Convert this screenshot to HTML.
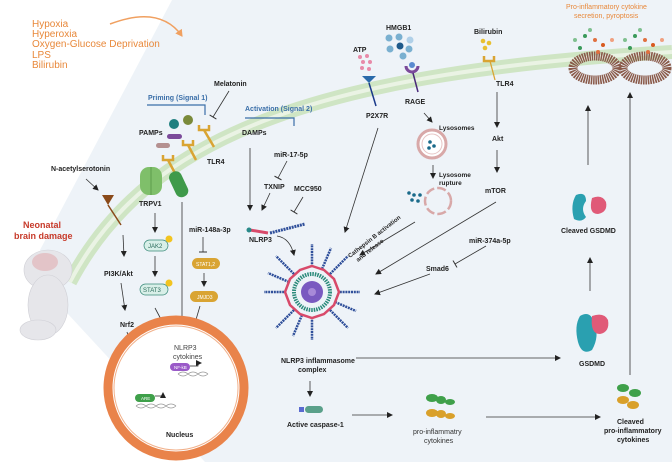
<!DOCTYPE html>
<html><head><meta charset="utf-8"><style>
html,body{margin:0;padding:0;background:#fff;}
svg{display:block;font-family:"Liberation Sans",sans-serif;}
.b{font-weight:bold;font-size:7px;fill:#222;}
.n{font-size:7px;fill:#333;}
.l{stroke:#333;stroke-width:0.8;fill:none;}
</style></head><body>
<svg width="672" height="462" viewBox="0 0 672 462" xmlns="http://www.w3.org/2000/svg">
<defs>
<marker id="a" markerWidth="6" markerHeight="6" refX="5" refY="3" orient="auto" markerUnits="userSpaceOnUse"><path d="M0,0 L6,3 L0,6z" fill="#222"/></marker>
<marker id="t" markerWidth="2" markerHeight="8" refX="1" refY="4" orient="auto" markerUnits="userSpaceOnUse"><path d="M1,0 L1,8" stroke="#333" stroke-width="1"/></marker>
<marker id="o" markerWidth="8" markerHeight="8" refX="6" refY="4" orient="auto" markerUnits="userSpaceOnUse"><path d="M0,0 L7,4 L0,8z" fill="#f0a060"/></marker>
</defs>
<rect width="672" height="462" fill="#fff"/>
<path d="M172,0 L672,0 L672,462 L205,462 L55,300 L40,250 Z" fill="#eef3f8"/>
<!-- membrane -->
<path d="M70,282 C150,130 330,72 672,52" stroke="#cfe5c4" stroke-width="14" fill="none"/>
<path d="M70,282 C150,130 330,72 672,52" stroke="#eaf3e4" stroke-width="4" fill="none"/>
<!-- top-left text -->
<g font-size="10" fill="#e8883a">
<text x="32" y="27">Hypoxia</text><text x="32" y="37">Hyperoxia</text><text x="32" y="47">Oxygen-Glucose Deprivation</text><text x="32" y="58">LPS</text><text x="32" y="68">Bilirubin</text></g>
<path d="M110,24 Q160,5 182,36" stroke="#f0a060" stroke-width="1.5" fill="none" marker-end="url(#o)"/>
<!-- signals -->
<text x="148" y="100" font-size="7" fill="#3a6ea8" font-weight="bold">Priming (Signal 1)</text>
<path d="M147,105 H205 V115" stroke="#3a6ea8" stroke-width="1.2" fill="none"/>
<text x="245" y="111" font-size="7" fill="#3a6ea8" font-weight="bold">Activation (Signal 2)</text>
<path d="M245,118 H294 V126" stroke="#3a6ea8" stroke-width="1.2" fill="none"/>
<text x="214" y="86" class="b">Melatonin</text>
<path d="M229,91 L213,117" class="l" marker-end="url(#t)"/>
<text x="139" y="135" class="b">PAMPs</text>
<circle cx="174" cy="124" r="5" fill="#1f7f7f"/><circle cx="188" cy="120" r="5" fill="#7a8a3a"/>
<rect x="167" y="134" width="15" height="5" rx="2.5" fill="#7b4a9a"/>
<rect x="156" y="143" width="14" height="5" rx="2.5" fill="#b49090"/>
<g stroke="#d9a433" stroke-width="2.5" fill="none">
<path d="M199,125 v5 h10 v-5 M204,130 l10,17"/>
<path d="M183,140 v5 h10 v-5 M188,145 l8,15"/>
<path d="M163,155 v5 h10 v-5 M168,160 l9,17"/>
</g>
<text x="207" y="164" class="b">TLR4</text>
<rect x="140" y="167" width="22" height="28" rx="9" fill="#7fbf6a"/><path d="M151,167 v28" stroke="#5e9e4c"/>
<text x="139" y="206" class="b">TRPV1</text>
<rect x="172" y="171" width="13" height="27" rx="6" fill="#3f9a4a" transform="rotate(-25 178 184)"/>
<text x="51" y="171" class="b">N-acetylserotonin</text>
<path d="M86,179 L98,190" class="l" marker-end="url(#a)"/>
<path d="M102,195 l6,10 l6,-10z" fill="#8a4a1a"/><path d="M108,205 l13,20" stroke="#8a4a1a" stroke-width="1.5"/>
<text x="23" y="228" font-size="9" font-weight="bold" fill="#c73a2a">Neonatal</text>
<text x="14" y="239" font-size="9" font-weight="bold" fill="#c73a2a">brain damage</text>
<!-- fetus -->
<g fill="#e6e6ea" stroke="#d0d0d6" stroke-width="0.6">
<ellipse cx="48" cy="270" rx="24" ry="20"/>
<ellipse cx="48" cy="305" rx="20" ry="30"/>
<ellipse cx="38" cy="330" rx="18" ry="10"/></g>
<ellipse cx="45" cy="262" rx="13" ry="9" fill="#e3c4c8"/>
<!-- left pathway -->
<path d="M123,235 L124,256" class="l" marker-end="url(#a)"/>
<text x="104" y="276" class="b">PI3K/Akt</text>
<path d="M121,283 L125,310" class="l" marker-end="url(#a)"/>
<text x="120" y="327" class="b">Nrf2</text>
<path d="M127,332 L144,390" class="l" marker-end="url(#a)"/>
<path d="M155,213 V232" class="l" marker-end="url(#a)"/>
<rect x="144" y="240" width="24" height="11" rx="5.5" fill="#d8efe8" stroke="#3a8a7a" stroke-width="0.7"/><text x="148" y="248" font-size="6" fill="#2a6a5a">JAK2</text><circle cx="169" cy="239" r="3.5" fill="#f2c420"/>
<path d="M155,256 V276" class="l" marker-end="url(#a)"/>
<rect x="140" y="284" width="28" height="11" rx="5.5" fill="#d8efe8" stroke="#3a8a7a" stroke-width="0.7"/><text x="143" y="292" font-size="6" fill="#2a6a5a">STAT3</text><circle cx="169" cy="283" r="3.5" fill="#f2c420"/>
<path d="M155,308 L172,340" class="l" marker-end="url(#a)"/>
<path d="M182,202 V340" class="l" marker-end="url(#a)"/>
<text x="189" y="232" class="b">miR-148a-3p</text>
<path d="M203,237 V252" class="l" marker-end="url(#t)"/>
<rect x="192" y="258" width="28" height="11" rx="5.5" fill="#d9a433"/><text x="196" y="266" font-size="5" fill="#fff">STAT1,2</text>
<path d="M204,273 V286" class="l" marker-end="url(#a)"/>
<rect x="190" y="291" width="28" height="11" rx="5.5" fill="#d9a433"/><text x="197" y="299" font-size="5" fill="#fff">JMJD3</text>
<path d="M200,306 L190,340" class="l" marker-end="url(#a)"/>
<!-- nucleus -->
<circle cx="176" cy="388" r="68" fill="#fff" stroke="#e9834a" stroke-width="9"/>
<circle cx="176" cy="388" r="62" fill="none" stroke="#f1b08a" stroke-width="1"/>
<text x="174" y="350" font-size="7" fill="#444">NLRP3</text><text x="173" y="359" font-size="7" fill="#444">cytokines</text>
<rect x="170" y="363" width="20" height="8" rx="4" fill="#9a5ac8"/><text x="174" y="369" font-size="4.5" fill="#fff">NF-kB</text>
<path d="M190,366 h8 v-3 M198,363 l3,0" stroke="#222" stroke-width="0.7" fill="none" marker-end="url(#a)"/>
<path d="M178,374 q5,-4 10,0 t10,0 t10,0 M178,374 q5,4 10,0 t10,0 t10,0" stroke="#999" stroke-width="0.8" fill="none"/>
<rect x="135" y="394" width="20" height="8" rx="4" fill="#3fa04a"/><text x="141" y="400" font-size="4.5" fill="#fff">ARE</text>
<path d="M155,396 h8 v-3" stroke="#222" stroke-width="0.7" fill="none" marker-end="url(#a)"/>
<path d="M136,406 q5,-4 10,0 t10,0 t10,0 t10,0 M136,406 q5,4 10,0 t10,0 t10,0 t10,0" stroke="#999" stroke-width="0.8" fill="none"/>
<text x="166" y="437" class="b">Nucleus</text>
<!-- center -->
<text x="242" y="135" class="b">DAMPs</text>
<path d="M250,148 V210" class="l" marker-end="url(#a)"/>
<text x="274" y="157" class="b">miR-17-5p</text>
<path d="M287,161 L278,178" class="l" marker-end="url(#t)"/>
<text x="264" y="189" class="b">TXNIP</text>
<text x="294" y="191" class="b">MCC950</text>
<path d="M270,193 L262,210" class="l" marker-end="url(#a)"/>
<path d="M303,197 L294,212" class="l" marker-end="url(#t)"/>
<path d="M250,230 L268,233" stroke="#d84a6a" stroke-width="3"/><circle cx="249" cy="230" r="2.5" fill="#2a8a8a"/>
<path d="M270,233 L305,224" stroke="#2f4f9a" stroke-width="3" stroke-dasharray="2 0.8"/>
<text x="249" y="242" class="b">NLRP3</text>
<path d="M277,236 Q290,238 294,255" class="l" marker-end="url(#a)"/>
<!-- inflammasome -->
<g transform="translate(312,292)">
<g stroke="#2f4f9a" stroke-width="2.5" stroke-dasharray="2 0.8">
<path d="M0,-25 V-48"/><path d="M18,-18 L36,-36"/><path d="M25,0 H48"/><path d="M18,18 L36,36"/><path d="M0,25 V48"/><path d="M-18,18 L-36,36"/><path d="M-25,0 H-48"/><path d="M-18,-18 L-36,-36"/>
<path d="M10,-23 L19,-44"/><path d="M-10,23 L-19,44"/><path d="M23,10 L44,19"/><path d="M-23,-10 L-44,-19"/>
</g>
<polygon points="0,-26 12,-22 22,-13 27,0 22,13 12,22 0,26 -12,22 -22,13 -27,0 -22,-13 -12,-22" fill="#eef3f8" stroke="#d84a6a" stroke-width="2.5"/>
<circle r="18" fill="none" stroke="#2a8a7a" stroke-width="4" stroke-dasharray="1.5 1"/>
<circle r="11" fill="#7a5ac0"/><circle r="4" fill="#a88ad8"/>
</g>
<text x="281" y="363" class="b">NLRP3 inflammasome</text><text x="298" y="372" class="b">complex</text>
<path d="M310,381 V396" class="l" stroke-width="1" marker-end="url(#a)"/>
<rect x="299" y="407" width="5" height="5" fill="#5a6ad0"/><rect x="305" y="406" width="18" height="7" rx="3.5" fill="#5aa08a"/>
<text x="287" y="427" class="b">Active caspase-1</text>
<path d="M352,415 H392" class="l" marker-end="url(#a)"/>
<g fill="#3fa04a"><ellipse cx="432" cy="398" rx="6" ry="4"/><ellipse cx="441" cy="400" rx="5" ry="4"/><ellipse cx="450" cy="402" rx="5" ry="3"/></g>
<g fill="#d9a02a"><ellipse cx="432" cy="413" rx="6" ry="4"/><ellipse cx="441" cy="414" rx="5" ry="4"/><ellipse cx="450" cy="416" rx="5" ry="3"/></g>
<text x="413" y="434" class="n">pro-inflammatry</text><text x="424" y="443" class="n">cytokines</text>
<path d="M486,417 H600" class="l" marker-end="url(#a)"/>
<g fill="#3fa04a"><ellipse cx="623" cy="388" rx="6" ry="4"/><ellipse cx="635" cy="393" rx="6" ry="4"/></g>
<g fill="#d9a02a"><ellipse cx="623" cy="400" rx="6" ry="4"/><ellipse cx="633" cy="405" rx="6" ry="4"/></g>
<text x="617" y="424" class="b">Cleaved</text><text x="604" y="433" class="b">pro-inflammatory</text><text x="617" y="442" class="b">cytokines</text>
<path d="M356,358 L560,358" class="l" stroke-width="1" marker-end="url(#a)"/>
<path d="M580,316 q10,-6 14,6 q6,14 -2,28 q-10,6 -14,-8 q-4,-16 2,-26z" fill="#2aa0b0"/>
<path d="M592,316 q12,-4 16,4 q2,12 -8,14 q-10,0 -8,-18z" fill="#e05a78"/>
<text x="579" y="366" class="b">GSDMD</text>
<path d="M590,291 V258" class="l" marker-end="url(#a)"/>
<path d="M576,195 q10,-4 10,6 q-6,8 0,16 q-4,6 -12,2 q-4,-14 2,-24z" fill="#2aa0b0"/>
<path d="M592,198 q10,-4 14,4 q2,10 -8,12 q-10,0 -6,-16z" fill="#e05a78"/>
<text x="561" y="233" class="b">Cleaved GSDMD</text>
<path d="M588,165 V106" class="l" marker-end="url(#a)"/>
<path d="M630,375 V93" class="l" marker-end="url(#a)"/>
<!-- pores -->
<g fill="none" stroke="#8a5a4a" stroke-width="9" stroke-dasharray="1.5 0.8">
<ellipse cx="595" cy="68" rx="22" ry="12"/><ellipse cx="645" cy="68" rx="22" ry="12"/></g>
<g><circle cx="575" cy="40" r="2" fill="#80c090"/><circle cx="585" cy="36" r="2" fill="#3a9a5a"/><circle cx="595" cy="40" r="2" fill="#e07040"/><circle cx="603" cy="45" r="2" fill="#d85a20"/><circle cx="580" cy="48" r="2" fill="#3a9a5a"/><circle cx="612" cy="40" r="2" fill="#f0a080"/><circle cx="590" cy="30" r="2" fill="#80c090"/><circle cx="598" cy="52" r="2" fill="#e07040"/>
<circle cx="625" cy="40" r="2" fill="#80c090"/><circle cx="635" cy="36" r="2" fill="#3a9a5a"/><circle cx="645" cy="40" r="2" fill="#e07040"/><circle cx="653" cy="45" r="2" fill="#d85a20"/><circle cx="630" cy="48" r="2" fill="#3a9a5a"/><circle cx="662" cy="40" r="2" fill="#f0a080"/><circle cx="640" cy="30" r="2" fill="#80c090"/><circle cx="648" cy="52" r="2" fill="#e07040"/></g>
<text x="566" y="9" font-size="7" fill="#e8883a">Pro-inflammatory cytokine</text><text x="574" y="18" font-size="7" fill="#e8883a">secretion,  pyroptosis</text>
<!-- ATP / HMGB1 / Bilirubin -->
<text x="353" y="52" class="b">ATP</text>
<g fill="#e88aa8"><circle cx="360" cy="57" r="2"/><circle cx="367" cy="56" r="2"/><circle cx="363" cy="62" r="2"/><circle cx="370" cy="62" r="2"/><circle cx="362" cy="68" r="2"/><circle cx="369" cy="69" r="2"/></g>
<path d="M362,76 l7,7 l7,-7z" fill="#2a6aaa"/><path d="M369,83 L376,106" stroke="#1a3a8a" stroke-width="1.5"/>
<text x="366" y="118" class="b">P2X7R</text>
<path d="M378,128 L345,232" class="l" marker-end="url(#a)"/>
<text x="386" y="30" class="b">HMGB1</text>
<g fill="#7ab0d0"><circle cx="389" cy="38" r="3.5"/><circle cx="399" cy="37" r="3.5"/><circle cx="390" cy="49" r="3.5"/><circle cx="400" cy="46" r="3.5" fill="#1f5a8a"/><circle cx="410" cy="40" r="3.5" fill="#b0d0e8"/><circle cx="409" cy="49" r="3.5"/><circle cx="403" cy="56" r="3.5"/></g>
<path d="M406,66 a6,6 0 0 0 12,0" stroke="#7b4a9a" stroke-width="3" fill="none"/><circle cx="412" cy="65" r="3" fill="#5a8ad0"/>
<path d="M413,73 L418,92" stroke="#4a2a7a" stroke-width="1.5"/>
<text x="405" y="104" class="b">RAGE</text>
<path d="M424,113 L432,122" class="l" marker-end="url(#a)"/>
<text x="439" y="130" font-size="6.5" font-weight="bold" fill="#222">Lysosomes</text>
<circle cx="432" cy="144" r="14" fill="#fff" stroke="#d8a8a8" stroke-width="3"/><circle cx="432" cy="144" r="10" fill="#fff" stroke="#e6c4c4" stroke-width="1"/>
<g fill="#1a6a8a"><circle cx="430" cy="142" r="1.8"/><circle cx="434" cy="146" r="1.8"/><circle cx="429" cy="148" r="1.8"/></g>
<path d="M433,165 V178" class="l" marker-end="url(#a)"/>
<text x="439" y="177" font-size="6.5" font-weight="bold" fill="#222">Lysosome</text><text x="439" y="185" font-size="6.5" font-weight="bold" fill="#222">rupture</text>
<circle cx="438" cy="201" r="13" fill="none" stroke="#d8a8a8" stroke-width="2.5" stroke-dasharray="9 3"/>
<g fill="#1a6a8a"><circle cx="409" cy="193" r="1.8"/><circle cx="414" cy="195" r="1.8"/><circle cx="412" cy="200" r="1.8"/><circle cx="418" cy="201" r="1.8"/><circle cx="420" cy="195" r="1.8"/></g>
<text transform="translate(350,258) rotate(-38)" font-size="6" font-weight="bold" fill="#222">Cathepsin B activation</text>
<text transform="translate(358,262) rotate(-38)" font-size="6" font-weight="bold" fill="#222">and release</text>
<path d="M415,222 L360,255" class="l" marker-end="url(#a)"/>
<text x="474" y="34" class="b">Bilirubin</text>
<g fill="#e8c030"><circle cx="483" cy="41" r="2.3"/><circle cx="489" cy="43" r="2.3"/><circle cx="485" cy="48" r="2.3"/></g>
<path d="M484,56 v5 h10 v-5" stroke="#d9a433" stroke-width="2.5" fill="none"/><path d="M490,61 L495,80" stroke="#d9a433" stroke-width="1.3"/>
<text x="496" y="86" class="b">TLR4</text>
<path d="M497,92 V127" class="l" marker-end="url(#a)"/>
<text x="492" y="141" class="b">Akt</text>
<path d="M497,150 V172" class="l" marker-end="url(#a)"/>
<text x="485" y="193" class="b">mTOR</text>
<path d="M496,202 L376,274" class="l" marker-end="url(#a)"/>
<text x="469" y="243" class="b">miR-374a-5p</text>
<path d="M486,246 L455,264" class="l" marker-end="url(#t)"/>
<text x="426" y="271" class="b">Smad6</text>
<path d="M430,274 L375,294" class="l" marker-end="url(#a)"/>
</svg>
</body></html>
